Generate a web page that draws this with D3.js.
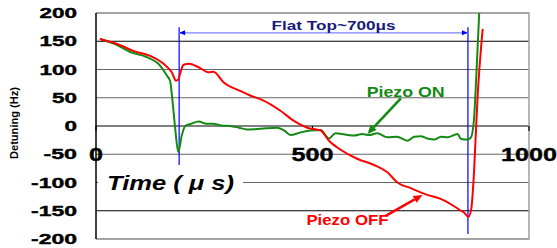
<!DOCTYPE html>
<meta charset="utf-8">
<script src="https://d3js.org/d3.v7.min.js"></script>
<style>
  body { margin: 0; background: #fff; }
  text { font-family: "Liberation Sans", Arial, sans-serif; font-weight: bold; }
</style>
<div id="my_dataviz"></div>
<script>

  // Piezo ON (green) : time in us, detuning in Hz
  var timeOn = [9, 44, 79, 117, 148, 164, 171, 177, 183, 190, 198, 206, 220, 237, 255, 271, 290, 310, 330, 349,
    380, 418, 435, 449, 470, 495, 519, 538, 553, 575, 596, 615, 630, 650, 673, 695, 719, 735, 750, 765,
    781, 797, 812, 835, 843, 858, 866, 873, 879, 885];
  var detuneOn = [154, 145, 131, 122, 107, 89, 80, 42, -5, -46, -17, 0, 4, 8, 4, 4, 1, 0, -3, -6,
    -5, -3, -8, -16, -12, -8, -7, -22, -13, -15, -17, -14, -16, -13, -20, -19, -26, -19, -18, -22,
    -24, -19, -20, -14, -23, -24, -20, 12, 100, 200];

  // Piezo OFF (red)
  var timeOff = [9, 56, 86, 125, 156, 175, 185, 190, 195, 202, 214, 237, 260, 271, 295, 333, 356, 387, 426, 457,
    488, 519, 538, 565, 603, 642, 673, 696, 727, 765, 796, 827, 843, 850, 860, 867, 869, 873, 881, 893];
  var detuneOff = [154, 143, 133, 124, 110, 95, 80, 82, 95, 108, 110, 104, 95, 96, 77, 62, 54, 45, 27, 9,
    -3, -8, -26, -42, -58, -69, -82, -100, -110, -122, -129, -142, -150, -153, -161, -145, -129, -82, 48, 172];

  var yTicks = [200, 150, 100, 50, 0, -50, -100, -150, -200];
  var xTicks = [0, 500, 1000];
  var flatStart = 192, flatEnd = 859;

  var margin = { top: 13, right: 28, bottom: 9, left: 96 },
    width = 557 - margin.left - margin.right,
    height = 248 - margin.top - margin.bottom;

  var svg = d3.select("#my_dataviz")
    .append("svg")
    .attr("width", 557)
    .attr("height", 248)
    .append("g")
    .attr("transform", "translate(" + margin.left + "," + margin.top + ")");

  var x = d3.scaleLinear().domain([0, 1000]).range([0, width]);
  var y = d3.scaleLinear().domain([-200, 200]).range([height, 0]);

  svg.append("defs").append("clipPath").attr("id", "clip")
    .append("rect").attr("width", width).attr("height", height);

  // gridlines
  svg.selectAll(".grid").data(yTicks).enter().append("line")
    .attr("x1", 0).attr("x2", width)
    .attr("y1", function (d) { return y(d); }).attr("y2", function (d) { return y(d); })
    .attr("stroke", function (d) { return (d == 150 || d == 0 || d == -150) ? "#000" : "#666"; })
    .attr("stroke-width", 1.2);

  // plot frame (right, bottom, top)
  svg.append("path")
    .attr("d", "M0," + y(200) + "H" + width + "V" + y(-200) + "H0")
    .attr("fill", "none").attr("stroke", "#a0a0a0").attr("stroke-width", 1.5);

  // y axis line
  svg.append("line").attr("x1", 0).attr("x2", 0).attr("y1", 0).attr("y2", height)
    .attr("stroke", "#000").attr("stroke-width", 1.5);

  // x axis ticks on zero line
  svg.selectAll(".xt").data(xTicks).enter().append("line")
    .attr("x1", function (d) { return x(d); }).attr("x2", function (d) { return x(d); })
    .attr("y1", y(0)).attr("y2", y(0) + 5)
    .attr("stroke", "#000").attr("stroke-width", 1.2);

  // y tick labels
  svg.selectAll(".yl").data(yTicks).enter().append("text")
    .attr("x", -19)
    .attr("y", function (d) { return y(d) + 5; })
    .attr("text-anchor", "end")
    .attr("font-size", 15)
    .attr("stroke", "#000").attr("stroke-width", 0.4)
    .attr("textLength", function (d) { var s = String(d); return s.replace("-", "").length * 12.5 + (d < 0 ? 8.5 : 0); })
    .attr("lengthAdjust", "spacingAndGlyphs")
    .text(function (d) { return d; });

  // x tick labels (placed near the -50 line like the original)
  svg.selectAll(".xl").data(xTicks).enter().append("text")
    .attr("x", function (d) { return x(d); })
    .attr("y", y(-50) + 7)
    .attr("text-anchor", "middle")
    .attr("font-size", 19)
    .attr("stroke", "#000").attr("stroke-width", 0.4)
    .attr("textLength", function (d) { return String(d).length * 14; })
    .attr("lengthAdjust", "spacingAndGlyphs")
    .text(function (d) { return d; });

  // x axis title with white box
  svg.append("rect")
    .attr("x", 2).attr("y", y(-100) - 11).attr("width", 145).attr("height", 22)
    .attr("fill", "#fff");
  svg.append("text")
    .attr("x", 11).attr("y", y(-100) + 7)
    .attr("font-size", 20).attr("font-style", "italic")
    .attr("textLength", 127).attr("lengthAdjust", "spacingAndGlyphs")
    .text("Time ( \u03bc s)");

  // y axis title
  svg.append("text")
    .attr("transform", "translate(" + (18 - margin.left) + "," + (y(0) - 3) + ") rotate(-90)")
    .attr("text-anchor", "middle")
    .attr("font-size", 10)
    .attr("textLength", 72).attr("lengthAdjust", "spacingAndGlyphs")
    .text("Detuning (Hz)");

  // flat top markers
  var blue = "#0000ff";
  svg.append("line").attr("x1", x(flatStart)).attr("x2", x(flatStart))
    .attr("y1", y(175)).attr("y2", y(-69)).attr("stroke", blue).attr("stroke-width", 1.2);
  svg.append("line").attr("x1", x(flatEnd)).attr("x2", x(flatEnd))
    .attr("y1", y(175)).attr("y2", y(-191)).attr("stroke", blue).attr("stroke-width", 1.2);
  svg.append("line").attr("x1", x(flatStart)).attr("x2", x(flatEnd))
    .attr("y1", y(165)).attr("y2", y(165)).attr("stroke", "#8080ff").attr("stroke-width", 1.2);
  svg.append("path")
    .attr("d", "M" + x(flatStart) + "," + y(165) + "l6,-2.5v5z")
    .attr("fill", blue);
  svg.append("path")
    .attr("d", "M" + x(flatEnd) + "," + y(165) + "l-6,-2.5v5z")
    .attr("fill", blue);
  svg.append("text")
    .attr("x", x((flatStart + flatEnd) / 2) + 10).attr("y", y(170))
    .attr("text-anchor", "middle").attr("font-size", 13).attr("fill", "#1a1a7a")
    .attr("textLength", 124).attr("lengthAdjust", "spacingAndGlyphs")
    .text("Flat Top~700\u03bcs");

  // series lines
  var line = d3.line()
    .curve(d3.curveMonotoneX)
    .x(function (d) { return x(d[0]); })
    .y(function (d) { return y(d[1]); });

  svg.append("path")
    .datum(d3.zip(timeOn, detuneOn))
    .attr("clip-path", "url(#clip)")
    .attr("fill", "none").attr("stroke", "#148a14").attr("stroke-width", 2)
    .attr("d", line);

  svg.append("path")
    .datum(d3.zip(timeOff, detuneOff))
    .attr("clip-path", "url(#clip)")
    .attr("fill", "none").attr("stroke", "#ff0000").attr("stroke-width", 2)
    .attr("d", line);

  // annotation arrows
  function arrow(t0, v0, t1, v1, color) {
    var x0 = x(t0), y0 = y(v0), x1 = x(t1), y1 = y(v1);
    var a = Math.atan2(y1 - y0, x1 - x0), L = 9, W = 4;
    var bx = x1 - L * Math.cos(a), by = y1 - L * Math.sin(a);
    svg.append("line").attr("x1", x0).attr("y1", y0).attr("x2", bx).attr("y2", by)
      .attr("stroke", color).attr("stroke-width", 2.5);
    svg.append("path")
      .attr("d", "M" + x1 + "," + y1 +
        "L" + (bx + W * Math.sin(a)) + "," + (by - W * Math.cos(a)) +
        "L" + (bx - W * Math.sin(a)) + "," + (by + W * Math.cos(a)) + "Z")
      .attr("fill", color);
  }
  arrow(704, 49, 627, -14, "#148a14");
  arrow(669, -159, 754, -122, "#ff0000");

  svg.append("text")
    .attr("x", x(625)).attr("y", y(52))
    .attr("font-size", 15).attr("fill", "#148a14")
    .attr("textLength", 78).attr("lengthAdjust", "spacingAndGlyphs")
    .text("Piezo ON");
  svg.append("text")
    .attr("x", x(486)).attr("y", y(-175))
    .attr("font-size", 14).attr("fill", "#ff0000")
    .attr("textLength", 82).attr("lengthAdjust", "spacingAndGlyphs")
    .text("Piezo OFF");

</script>
